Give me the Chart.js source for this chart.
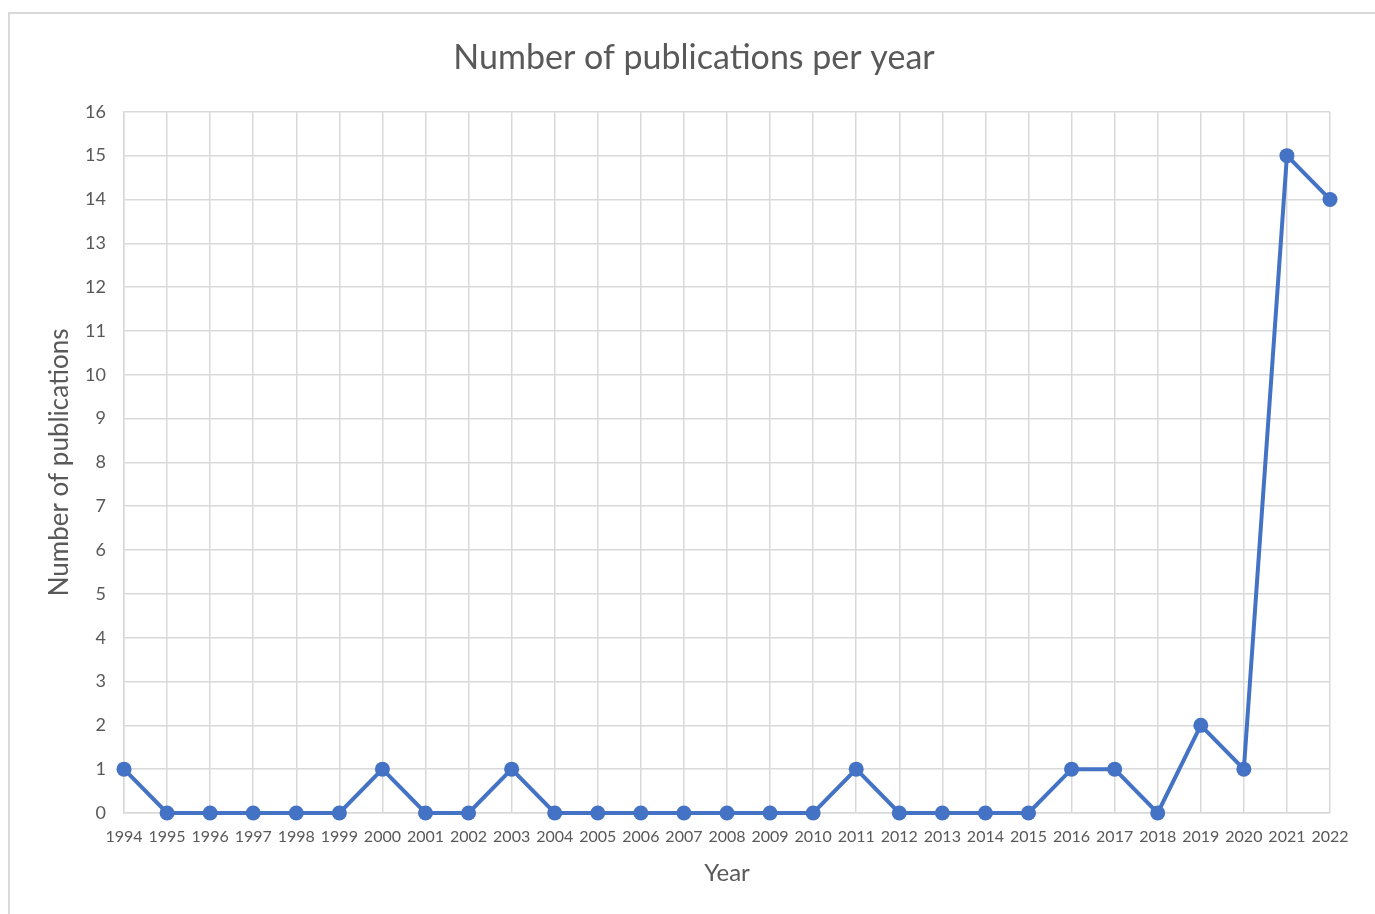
<!DOCTYPE html>
<html>
<head>
<meta charset="utf-8">
<title>Number of publications per year</title>
<script src="https://cdn.jsdelivr.net/npm/chart.js@4/dist/chart.umd.min.js"></script>
<style>
    html, body { margin: 0; padding: 0; background: #fff; overflow: hidden; }
    #frame {
        position: absolute; left: 8px; top: 12px;
        width: 1400px; height: 920px;
        border: 2px solid #d9d9d9; box-sizing: border-box;
    }
    #wrap { position: absolute; left: 0; top: 0; width: 1375px; height: 914px; }
</style>
</head>
<body>
<div id="frame"></div>
<div id="wrap"><canvas id="pubChart"></canvas></div>
<script>
// Datos del gráfico
const years = ['1994', '1995', '1996', '1997', '1998', '1999', '2000', '2001', '2002', '2003',
    '2004', '2005', '2006', '2007', '2008', '2009', '2010', '2011', '2012', '2013',
    '2014', '2015', '2016', '2017', '2018', '2019', '2020', '2021', '2022'];
const publications = [1, 0, 0, 0, 0, 0, 1, 0, 0, 1,
    0, 0, 0, 0, 0, 0, 0, 1, 0, 0,
    0, 0, 1, 1, 0, 2, 1, 15, 14];
const yMin = 0;
const yMax = 16;

const textColor = '#595959';
const gridColor = '#d9d9d9';
const lineColor = '#4472C4';
const fontFamily = 'Lato, "Open Sans", sans-serif';

new Chart(document.getElementById('pubChart'), {
    type: 'line',
    data: {
        labels: years,
        datasets: [{
            label: 'Number of publications',
            data: publications,
            borderColor: lineColor,
            backgroundColor: lineColor,
            borderWidth: 4,
            pointRadius: 7.5,
            pointHoverRadius: 7.5,
            pointBorderWidth: 0,
            tension: 0,
            clip: false,
        }]
    },
    options: {
        responsive: true,
        maintainAspectRatio: false,
        animation: false,
        layout: { padding: { left: 13, right: 0, top: 0, bottom: 0 } },
        plugins: {
            legend: { display: false },
            tooltip: { enabled: false },
            title: {
                display: true,
                text: 'Number of publications per year',
                color: textColor,
                font: { family: fontFamily, size: 34, weight: 'normal' },
                padding: { top: 38, bottom: 33 }
            }
        },
        scales: {
            x: {
                offset: false,
                grid: { color: gridColor, lineWidth: 1.5, drawTicks: false },
                border: { color: gridColor, width: 1.5 },
                ticks: {
                    color: textColor, padding: 14, maxRotation: 0, autoSkip: false,
                    font: { family: fontFamily, size: 16 }
                },
                title: {
                    display: true, text: 'Year', color: textColor,
                    font: { family: fontFamily, size: 24 },
                    padding: { top: 0, bottom: 26 }
                },
                afterFit: scale => { scale.height = 101; }
            },
            y: {
                min: yMin,
                max: yMax,
                grid: { color: gridColor, lineWidth: 1.5, drawTicks: false },
                border: { color: gridColor, width: 1.5 },
                ticks: {
                    stepSize: 1, color: textColor, padding: 18,
                    font: { family: fontFamily, size: 18 }
                },
                title: {
                    display: true, text: 'Number of publications', color: textColor,
                    font: { family: fontFamily, size: 26 },
                    padding: { top: 31, bottom: 0 }
                },
                afterFit: scale => { scale.width = 111; }
            },
            // eje vacío a la derecha para dejar el margen
            yRight: {
                position: 'right',
                min: yMin,
                max: yMax,
                grid: { drawOnChartArea: false, drawTicks: false },
                border: { display: false },
                ticks: { display: false },
                afterFit: scale => { scale.width = 45; }
            }
        }
    }
});
</script>
</body>
</html>
